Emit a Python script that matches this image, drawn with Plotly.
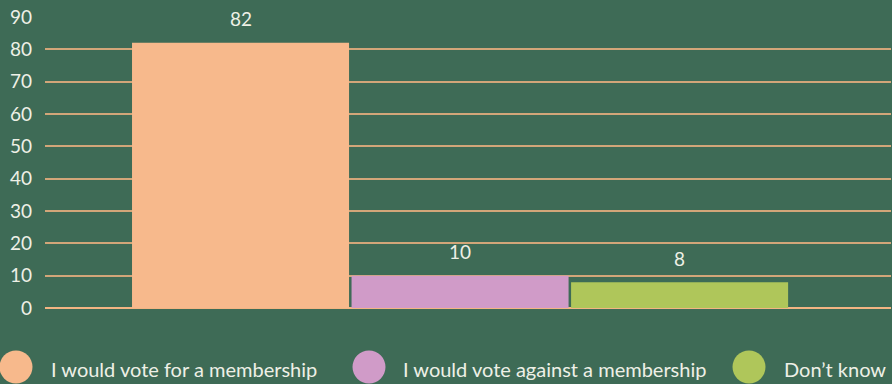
import plotly.graph_objects as go

# Survey answers and their shares (%)
answers = ["I would vote for a membership", "I would vote against a membership", "Don\u2019t know"]
shares = [82, 10, 8]
colors = ["#f7b98c", "#d09bc8", "#afc65a"]
y_ticks = [0, 10, 20, 30, 40, 50, 60, 70, 80, 90]

W, H = 892, 384
L, R, T, B = 45, 1, 17, 76
pw, ph = W - L - R, H - T - B

BG = "#3e6b56"
TXT = "#eef0e6"
FONT = "Lato"


def px(xp):
    return (xp - L) / pw


def py(yp):
    return (H - B - yp) / ph


fig = go.Figure()
for name, val, col in zip(answers, shares, colors):
    fig.add_trace(go.Bar(x=[name], y=[val], name=name, marker_color=col,
                         marker_line_width=0, showlegend=False, hoverinfo="skip"))

# value labels above bars
for name, val in zip(answers, shares):
    fig.add_annotation(x=name, y=val, text=str(val), showarrow=False,
                       yshift=24, yanchor="middle",
                       font=dict(family=FONT, size=19, color=TXT))

# legend: large circles with labels underneath the plot
circle_x = [16, 369, 749]
label_x = [49, 401, 782]
for cx, lx, name, col in zip(circle_x, label_x, answers, colors):
    fig.add_shape(type="circle", xref="paper", yref="paper",
                  xsizemode="pixel", ysizemode="pixel",
                  xanchor=px(cx), yanchor=py(367),
                  x0=-16.5, x1=16.5, y0=-16.5, y1=16.5,
                  fillcolor=col, line_width=0)
    fig.add_annotation(xref="paper", yref="paper", x=px(lx), y=py(369),
                       xanchor="left", yanchor="middle", showarrow=False,
                       text=name, font=dict(family=FONT, size=20, color=TXT))

fig.update_layout(
    width=W, height=H,
    margin=dict(l=L, r=R, t=T, b=B),
    paper_bgcolor=BG, plot_bgcolor=BG,
    barmode="overlay", bargap=0.0114,
    font=dict(family=FONT, color=TXT),
)
fig.update_xaxes(type="category", range=[-0.8907, 2.963], showticklabels=False,
                 showgrid=False, zeroline=False, showline=False, ticks="")
fig.update_yaxes(range=[0, 90], tickvals=y_ticks, ticks="",
                 showgrid=True, gridcolor="#d2a679", gridwidth=1.5,
                 zeroline=True, zerolinecolor="#f3b583", zerolinewidth=1.5,
                 showline=False, ticklabelstandoff=12,
                 tickfont=dict(family=FONT, size=19, color=TXT))

fig.write_html("out.html")
